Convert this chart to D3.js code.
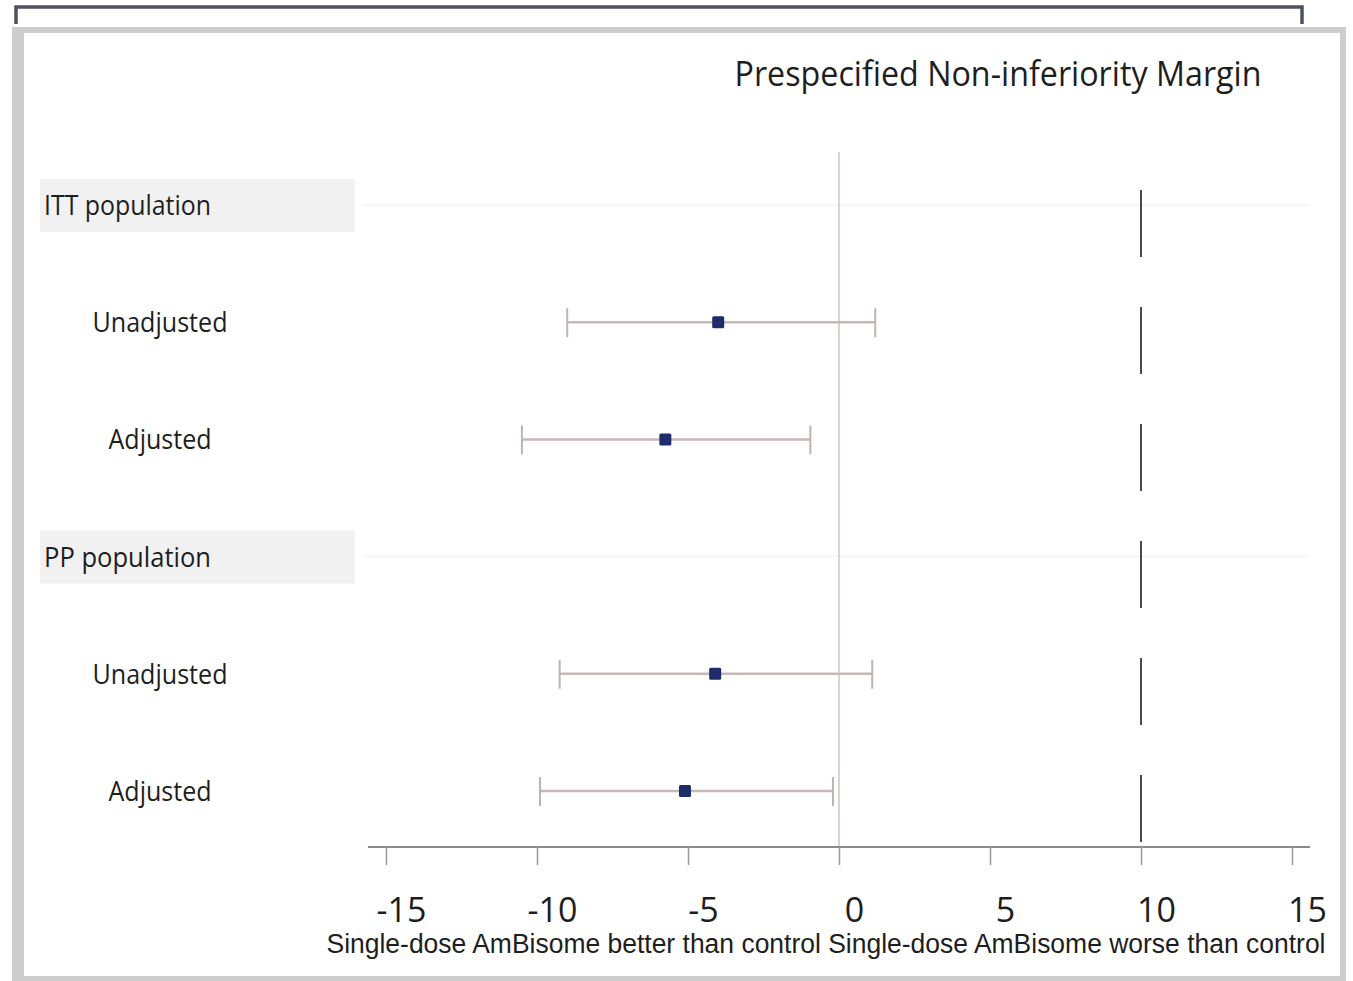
<!DOCTYPE html>
<html>
<head>
<meta charset="utf-8">
<script src="https://cdn.jsdelivr.net/npm/d3@7"></script>
<style>
  html, body { margin: 0; padding: 0; background: #ffffff; }
  svg { display: block; }
</style>
</head>
<body>
<div id="chart"></div>
<script>
// Rows of the forest plot, top to bottom
const rowLabels = ["ITT population", "Unadjusted", "Adjusted", "PP population", "Unadjusted", "Adjusted"];
const rowIsHeader = [true, false, false, true, false, false];
// Risk difference (%) with 95% CI
const estimates = [null, -4.0, -5.75, null, -4.1, -5.1];
const lowerCI = [null, -9.0, -10.5, null, -9.25, -9.9];
const upperCI = [null, 1.2, -0.95, null, 1.1, -0.2];
// Axis
const xTicks = [-15, -10, -5, 0, 5, 10, 15];
const xDomain = [-15, 15];
const nonInferiorityMargin = 10;
const titleText = "Prespecified Non-inferiority Margin";
const axisCaption = "Single-dose AmBisome better than control Single-dose AmBisome worse than control";

const W = 1353, H = 981;
const svg = d3.select("#chart").append("svg").attr("width", W).attr("height", H);

// Panel frames
svg.append("path")
  .attr("d", "M16,24 V7 H1302 V24")
  .attr("fill", "none").attr("stroke", "#4e5160").attr("stroke-width", 3.5);
svg.append("rect").attr("x", 12).attr("y", 27).attr("width", 1334).attr("height", 954).attr("fill", "#cdcdcd");
svg.append("rect").attr("x", 24).attr("y", 33).attr("width", 1316).attr("height", 943).attr("fill", "#ffffff");

const x = d3.scaleLinear().domain(xDomain).range([386, 1292]);
const y = d3.scalePoint().domain(d3.range(rowLabels.length)).range([205, 791]);
const plotTop = 152, axisY = 847;

const rows = rowLabels.map((label, i) => ({
  i, label, header: rowIsHeader[i], est: estimates[i], lo: lowerCI[i], hi: upperCI[i]
}));

// Header shading and faint row guide lines
const headers = rows.filter(d => d.header);
svg.selectAll("rect.hdr").data(headers).enter().append("rect")
  .attr("class", "hdr")
  .attr("x", 40).attr("width", 315)
  .attr("y", d => y(d.i) - 26).attr("height", 53)
  .attr("fill", "#f1f1f1");
svg.selectAll("line.hdrline").data(headers).enter().append("line")
  .attr("class", "hdrline")
  .attr("x1", 362).attr("x2", 1310)
  .attr("y1", d => y(d.i)).attr("y2", d => y(d.i))
  .attr("stroke", "#f8f8f8").attr("stroke-width", 3);

// Row labels
svg.selectAll("text.rowlab").data(rows).enter().append("text")
  .attr("class", "rowlab")
  .attr("x", d => d.header ? 44 : 160)
  .attr("y", d => y(d.i) + 10)
  .attr("text-anchor", d => d.header ? "start" : "middle")
  .attr("font-family", "'Open Sans', 'DejaVu Sans', sans-serif")
  .attr("font-size", 28)
  .attr("fill", "#1e1e1e")
  .attr("textLength", d => d.header ? 167 : (d.label === "Unadjusted" ? 135 : 103))
  .attr("lengthAdjust", "spacingAndGlyphs")
  .text(d => d.label);

// Reference line at zero
svg.append("line")
  .attr("x1", x(0)).attr("x2", x(0))
  .attr("y1", plotTop).attr("y2", axisY)
  .attr("stroke", "#dcd2d2").attr("stroke-width", 2);

// Non-inferiority margin
svg.append("line")
  .attr("x1", x(nonInferiorityMargin)).attr("x2", x(nonInferiorityMargin))
  .attr("y1", plotTop).attr("y2", axisY)
  .attr("stroke", "#4a4a4a").attr("stroke-width", 2)
  .attr("stroke-dasharray", "67 50").attr("stroke-dashoffset", 79);

// Confidence intervals
const est = rows.filter(d => !d.header);
const ciColor = "#c8b9b9";
svg.selectAll("line.ci").data(est).enter().append("line")
  .attr("class", "ci")
  .attr("x1", d => x(d.lo)).attr("x2", d => x(d.hi))
  .attr("y1", d => y(d.i)).attr("y2", d => y(d.i))
  .attr("stroke", ciColor).attr("stroke-width", 2.5);
["lo", "hi"].forEach(k => {
  svg.selectAll("line.cap-" + k).data(est).enter().append("line")
    .attr("class", "cap-" + k)
    .attr("x1", d => x(d[k])).attr("x2", d => x(d[k]))
    .attr("y1", d => y(d.i) - 14).attr("y2", d => y(d.i) + 15)
    .attr("stroke", "#bfb3b3").attr("stroke-width", 2);
});

// Point estimates
svg.selectAll("rect.pt").data(est).enter().append("rect")
  .attr("class", "pt")
  .attr("x", d => x(d.est) - 6).attr("y", d => y(d.i) - 6)
  .attr("width", 12).attr("height", 12).attr("rx", 1.5)
  .attr("fill", "#1f2c6b");

// X axis
const axis = svg.append("g")
  .attr("transform", `translate(0,${axisY})`)
  .call(d3.axisBottom(x).tickValues(xTicks).tickSize(18).tickSizeOuter(0).tickFormat(d => String(d)));
axis.select(".domain")
  .attr("d", `M${x(-15.6)},0H${x(15.6)}`)
  .attr("stroke", "#8a8a8a").attr("stroke-width", 2);
axis.selectAll(".tick line").attr("stroke", "#9a9a9a").attr("stroke-width", 1.5);
axis.selectAll(".tick text")
  .attr("y", 75).attr("dy", null).attr("dx", 15)
  .attr("font-family", "'Open Sans', 'DejaVu Sans', sans-serif")
  .attr("font-size", 34)
  .attr("fill", "#1e1e1e");

// Title
svg.append("text")
  .attr("x", 998).attr("y", 86)
  .attr("text-anchor", "middle")
  .attr("font-family", "'Open Sans', 'DejaVu Sans', sans-serif")
  .attr("font-size", 35)
  .attr("fill", "#1e1e1e")
  .attr("textLength", 527).attr("lengthAdjust", "spacingAndGlyphs")
  .text(titleText);

// Axis caption
svg.append("text")
  .attr("x", 826).attr("y", 953)
  .attr("text-anchor", "middle")
  .attr("font-family", "'Liberation Sans Narrow', 'Liberation Sans', Arial, sans-serif")
  .attr("font-size", 27)
  .attr("fill", "#1e1e1e")
  .attr("textLength", 999).attr("lengthAdjust", "spacingAndGlyphs")
  .text(axisCaption);
</script>
</body>
</html>
